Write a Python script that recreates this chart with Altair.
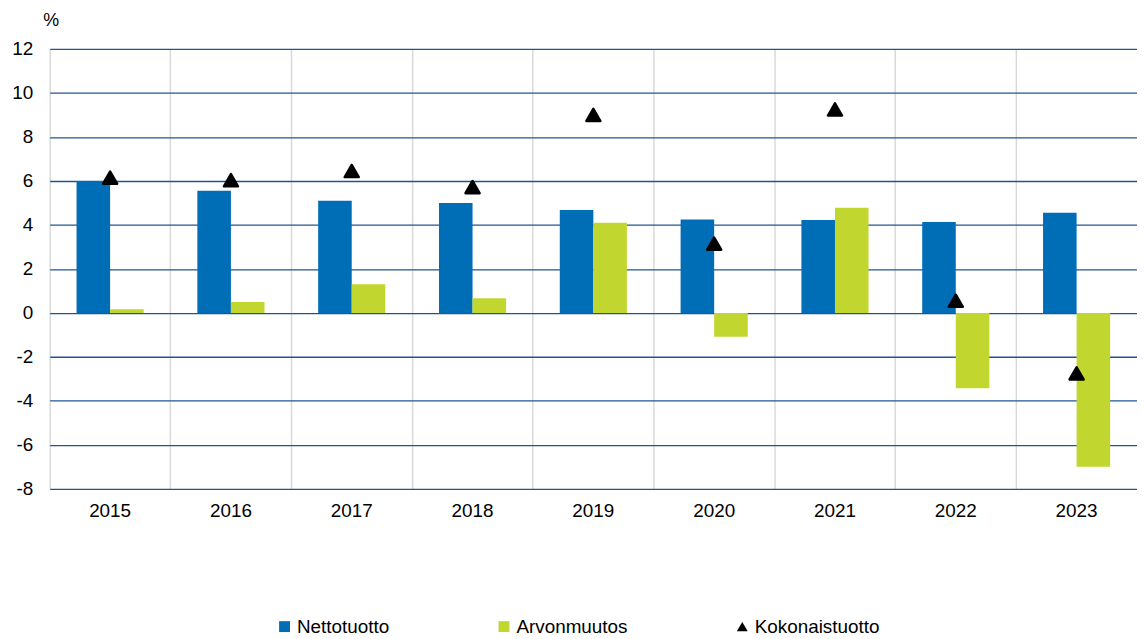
import altair as alt
import pandas as pd

years = ["2015", "2016", "2017", "2018", "2019", "2020", "2021", "2022", "2023"]
nettotuotto = [6.0, 5.55, 5.1, 5.0, 4.68, 4.25, 4.22, 4.13, 4.55]
arvonmuutos = [0.17, 0.49, 1.3, 0.67, 4.1, -1.08, 4.78, -3.43, -7.0]
kokonaistuotto = [6.15, 6.03, 6.45, 5.72, 9.0, 3.15, 9.25, 0.55, -2.75]

series = ["Nettotuotto", "Arvonmuutos", "Kokonaistuotto"]
colors = ["#006DB7", "#C1D72F", "#000000"]
shapes = ["square", "square", "triangle-up"]
y_ticks = [-8, -6, -4, -2, 0, 2, 4, 6, 8, 10, 12]

bars = pd.DataFrame(
    [{"year": y, "series": "Nettotuotto", "value": v} for y, v in zip(years, nettotuotto)]
    + [{"year": y, "series": "Arvonmuutos", "value": v} for y, v in zip(years, arvonmuutos)]
)
points = pd.DataFrame(
    [{"year": y, "series": "Kokonaistuotto", "value": v} for y, v in zip(years, kokonaistuotto)]
)

FONT = "Liberation Sans"
FS = 19

legend = alt.Legend(
    orient="none",
    direction="horizontal",
    legendX=227,
    legendY=572,
    title=None,
    labelFontSize=FS,
    labelFont=FONT,
    labelColor="#000000",
    labelOffset=3,
    symbolSize=120,
    symbolStrokeWidth=0,
    columnPadding=106,
)

color = alt.Color(
    "series:N",
    scale=alt.Scale(domain=series, range=colors),
    legend=legend,
)
shape = alt.Shape(
    "series:N",
    scale=alt.Scale(domain=series, range=shapes),
    legend=legend,
)

x = alt.X(
    "year:N",
    sort=years,
    title=None,
    scale=alt.Scale(paddingInner=0, paddingOuter=0),
    axis=alt.Axis(
        labelAngle=0,
        labelFontSize=FS,
        labelFont=FONT,
        labelColor="#000000",
        labelPadding=13,
        tickSize=0,
        domain=False,
        grid=True,
        gridColor="#d9d9d9",
        gridWidth=1.5,
        bandPosition=0,
    ),
)

y = alt.Y(
    "value:Q",
    scale=alt.Scale(domain=[-8, 12], nice=False, zero=False),
    axis=alt.Axis(
        values=y_ticks,
        labelExpr="'' + datum.value",
        title="%",
        titleAngle=0,
        titleX=-7,
        titleY=-24,
        titleAlign="left",
        titleBaseline="alphabetic",
        titleFontSize=18,
        titleFont=FONT,
        titleFontWeight="normal",
        titleColor="#000000",
        labelFontSize=FS,
        labelFont=FONT,
        labelColor="#000000",
        labelPadding=17,
        tickSize=0,
        domain=False,
        grid=True,
        gridColor="#1f5494",
        gridWidth=1.3,
    ),
)

bar_layer = alt.Chart(bars).mark_bar().encode(
    x=x,
    xOffset=alt.XOffset(
        "series:N",
        sort=["Nettotuotto", "Arvonmuutos"],
        scale=alt.Scale(paddingOuter=0.8, paddingInner=0),
    ),
    y=y,
    color=color,
)

point_layer = alt.Chart(points).mark_point(
    filled=True, size=200, opacity=1, stroke="#000000", strokeWidth=2.5, strokeJoin="round"
).encode(
    x=x,
    y=y,
    color=color,
    shape=shape,
)

chart = (
    alt.layer(bar_layer, point_layer)
    .properties(
        width=1095,
        height=443,
        autosize=alt.AutoSizeParams(type="none"),
        padding={"left": 42, "top": 39, "right": 0, "bottom": 149},
    )
    .configure_view(stroke=None)
)

chart.save("out.html", embed_options={"renderer": "svg", "actions": False})
